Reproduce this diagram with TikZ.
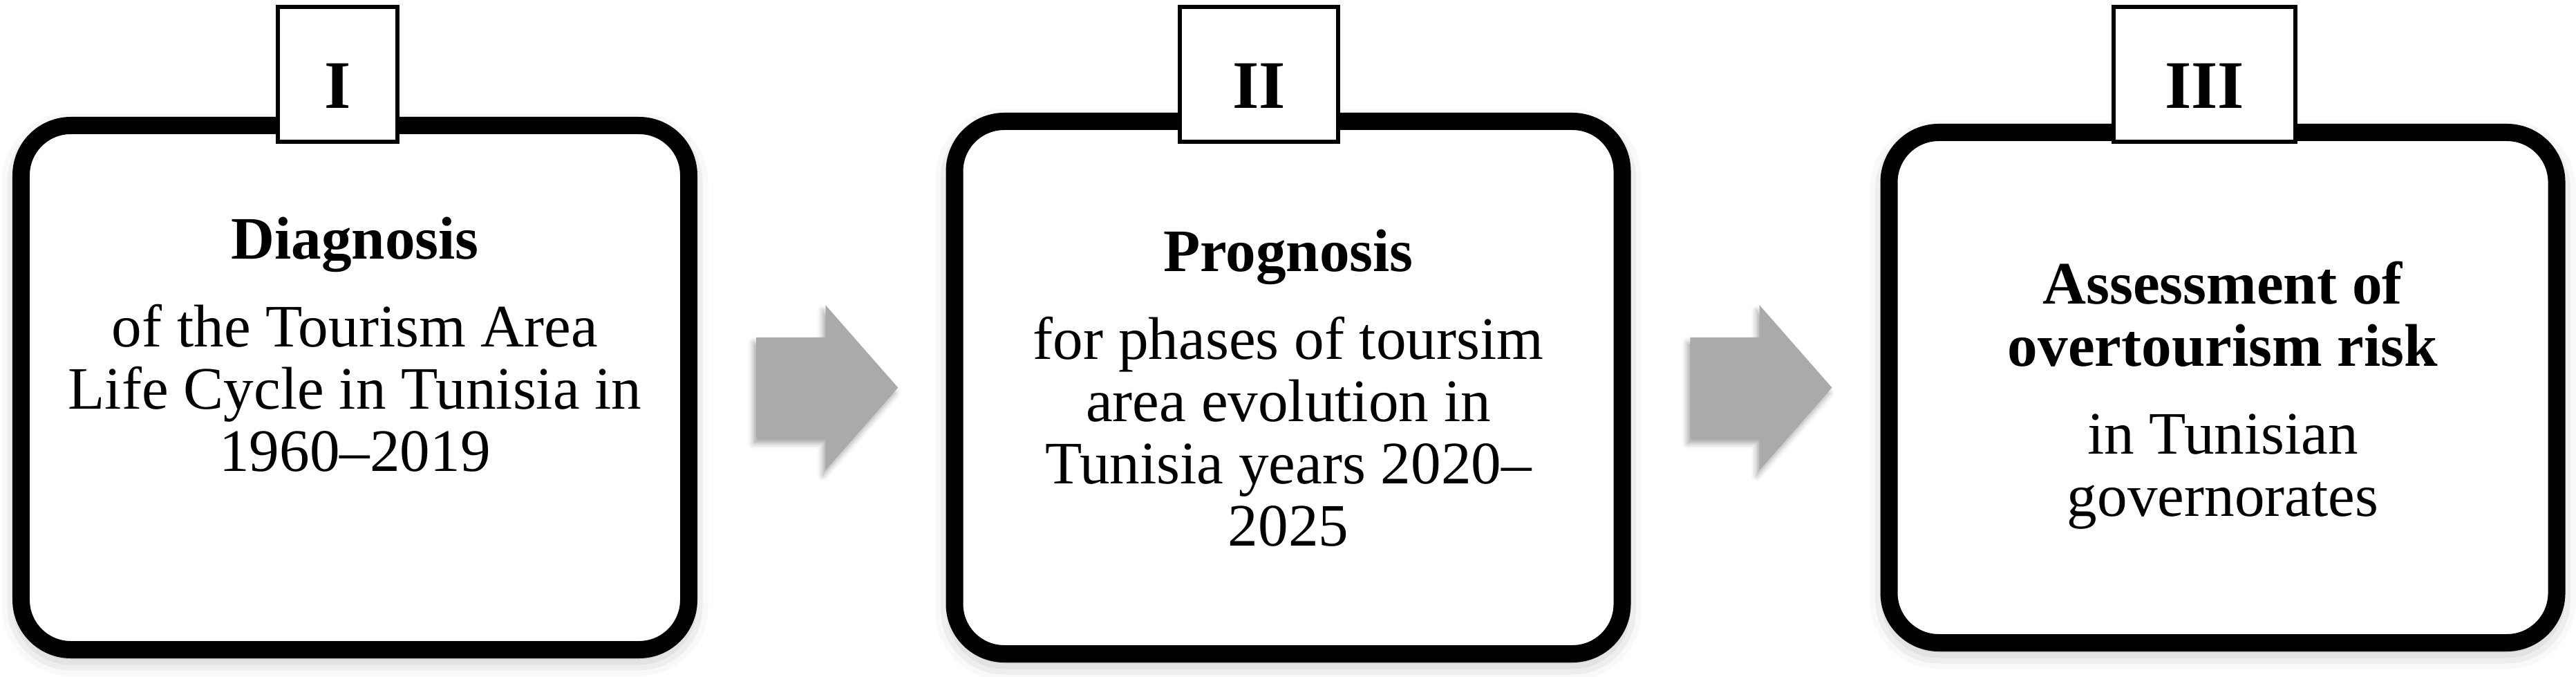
\documentclass[tikz,border=0pt]{standalone}
\usepackage{fontspec}
\setmainfont{Liberation Serif}
\usepackage{tikz}
\usetikzlibrary{shapes.geometric, shapes.arrows, shadows.blur, calc}
\tikzset{
  font={\fontsize{24.8pt}{25.6pt}\selectfont}}
\definecolor{arrowgray}{RGB}{170,170,170}

\begin{document}
\begin{tikzpicture}[
  stage/.style={draw, shape=rectangle, line width=0.25cm, rounded corners=0.72cm, fill=white, minimum width=9.66cm,
    blur shadow={shadow xshift=0cm, shadow yshift=-0.1cm, shadow blur radius=0.28cm, shadow opacity=35}},
  tag/.style={draw, shape=rectangle, line width=0.06cm, fill=white, minimum height=1.95cm, inner sep=0pt,
    text height=0.99cm, text depth=0pt, font={\fontsize{28pt}{30pt}\selectfont\bfseries}},
  flow/.style={single arrow, fill=arrowgray, minimum height=2.05cm, minimum width=2.37cm,
    single arrow head extend=0.465cm, single arrow tip angle=97.4, inner xsep=0pt, inner ysep=0.72cm,
    text height=0pt, text depth=0pt, xshift=-0.24cm,
    blur shadow={shadow xshift=-0.04cm, shadow yshift=-0.08cm, shadow blur radius=0.08cm, shadow opacity=35}},
  stagetext/.style={anchor=north, align=center, inner sep=0pt}]
  \useasboundingbox (0,0) rectangle (37.27,-9.79);
  % stages
  \node (s1) [stage, minimum height=7.58cm] at (5.135,-5.605) {};
  \node (s2) [stage, minimum height=7.70cm] at (18.64,-5.605) {};
  \node (s3) [stage, minimum height=7.38cm] at (32.16,-5.605) {};
  % numbers
  \node (n1) [tag, minimum width=1.73cm] at (4.885,-1.075) {I};
  \node (n2) [tag, minimum width=2.29cm] at (18.215,-1.075) {II};
  \node (n3) [tag, minimum width=2.63cm] at (31.895,-1.075) {III};
  % arrows
  \node (a1) [flow] at ($(s1.east)!0.5!(s2.west)$) {};
  \node (a2) [flow] at ($(s2.east)!0.5!(s3.west)$) {};
  % texts
  \node (t1) [stagetext] at (5.135,-3.13) {\textbf{Diagnosis}\\[0.37cm]
    of the Tourism Area\\ Life Cycle in Tunisia in\\ 1960--2019};
  \node (t2) [stagetext] at (18.64,-3.31) {\textbf{Prognosis}\\[0.37cm]
    for phases of toursim\\ area evolution in\\ Tunisia years 2020--\\ 2025};
  \node (t3) [stagetext] at (32.16,-3.77) {\textbf{Assessment of}\\ \textbf{overtourism risk}\\[0.37cm]
    in Tunisian\\ governorates};
\end{tikzpicture}
\end{document}
